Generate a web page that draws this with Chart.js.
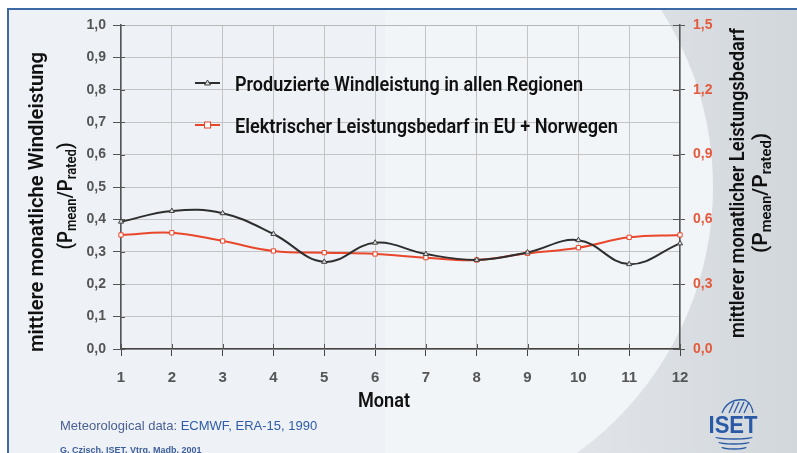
<!DOCTYPE html>
<html>
<head>
<meta charset="utf-8">
<script src="https://cdn.jsdelivr.net/npm/chart.js@4.4.0/dist/chart.umd.min.js"></script>
<style>
  html, body { margin: 0; padding: 0; background: #fff; }
  #wrap { width: 797px; height: 453px; position: relative; }
</style>
</head>
<body>
<div id="wrap"><canvas id="windChart"></canvas></div>
<script>
// ========================
// Data
// ========================
const months = ['1', '2', '3', '4', '5', '6', '7', '8', '9', '10', '11', '12'];
// left axis, P_mean / P_rated
const windPower = [0.393, 0.426, 0.419, 0.355, 0.269, 0.328, 0.293, 0.275, 0.298, 0.336, 0.262, 0.326];
// right axis, P_mean / P_rated
const powerDemand = [0.528, 0.538, 0.500, 0.454, 0.446, 0.440, 0.423, 0.412, 0.443, 0.469, 0.517, 0.528];
const leftTicks = { min: 0, max: 1.0, step: 0.1 };
const rightTicks = { min: 0, max: 1.5, step: 0.3 };
const seriesNames = ['Produzierte Windleistung in allen Regionen', 'Elektrischer Leistungsbedarf in EU + Norwegen'];

const BLACK = '#2e2e2e';
const RED = '#e9472b';
const TITLE_WEIGHT = 600;
const fmt = v => v.toFixed(1).replace('.', ',');

// draw text made of normal + subscript parts, squeezed to a given width
function richText(ctx, parts, x, y, size, width, rotate) {
    ctx.save();
    ctx.translate(x, y);
    if (rotate) ctx.rotate(-Math.PI / 2);
    const big = `${TITLE_WEIGHT} ${size}px Roboto`;
    const small = `${TITLE_WEIGHT} ${Math.round(size * 0.68)}px Roboto`;
    let w = 0;
    parts.forEach(p => { ctx.font = p.sub ? small : big; w += ctx.measureText(p.t).width; });
    const k = width ? width / w : 1;
    ctx.scale(k, 1);
    ctx.fillStyle = '#111';
    ctx.textBaseline = 'middle';
    ctx.textAlign = 'left';
    let cx = -w / 2;
    parts.forEach(p => {
        ctx.font = p.sub ? small : big;
        ctx.fillText(p.t, cx, p.sub ? size * 0.28 : 0);
        cx += ctx.measureText(p.t).width;
    });
    ctx.restore();
}

const pmean = [{ t: '(P' }, { t: 'mean', sub: true }, { t: '/P' }, { t: 'rated', sub: true }, { t: ')' }];

const backdrop = {
    id: 'backdrop',
    beforeDraw(chart) {
        const ctx = chart.ctx;
        ctx.save();
        ctx.fillStyle = '#fff';
        ctx.fillRect(0, 0, 797, 453);
        ctx.fillStyle = '#eef2f6';
        ctx.fillRect(8, 9, 789, 444);
        // grey crescent on the right
        ctx.beginPath();
        ctx.rect(385, 9, 412, 444);
        ctx.clip();
        const g = ctx.createLinearGradient(570, 0, 797, 0);
        g.addColorStop(0, '#e1e5e9');
        g.addColorStop(1, '#d2d7dc');
        ctx.fillStyle = g;
        ctx.fillRect(385, 9, 412, 444);
        ctx.beginPath();
        ctx.arc(385, 187, 328, 0, Math.PI * 2);
        ctx.fillStyle = '#f1f5f8';
        ctx.fill();
        ctx.restore();
        // frame
        ctx.save();
        ctx.strokeStyle = '#3d6aa6';
        ctx.lineWidth = 2;
        ctx.beginPath();
        ctx.moveTo(8, 453);
        ctx.lineTo(8, 9);
        ctx.lineTo(797, 9);
        ctx.stroke();
        ctx.restore();
    },
    afterDraw(chart) {
        const ctx = chart.ctx;
        const area = chart.chartArea;
        const ds = chart.data.datasets;
        ctx.save();
        // top line of plot
        ctx.strokeStyle = '#b8b8b8';
        ctx.lineWidth = 1;
        ctx.beginPath();
        ctx.moveTo(area.left, area.top + 0.5);
        ctx.lineTo(area.right, area.top + 0.5);
        ctx.stroke();

        // inner halves of the tick marks (they cross the axes)
        ctx.strokeStyle = '#555';
        ctx.lineWidth = 1;
        ctx.beginPath();
        chart.scales.y.ticks.forEach(t => {
            const py = Math.round(chart.scales.y.getPixelForValue(t.value)) + 0.5;
            ctx.moveTo(area.left, py);
            ctx.lineTo(area.left + 4, py);
        });
        chart.scales.y1.ticks.forEach(t => {
            const py = Math.round(chart.scales.y1.getPixelForValue(t.value)) + 0.5;
            ctx.moveTo(area.right - 7, py);
            ctx.lineTo(area.right, py);
        });
        chart.scales.x.ticks.forEach((t, i) => {
            const px = Math.round(chart.scales.x.getPixelForTick(i)) + 0.5;
            ctx.moveTo(px, area.bottom);
            ctx.lineTo(px, area.bottom - 5);
        });
        ctx.stroke();

        // legend inside the plot
        const rows = [{ y: 83, base: 91, w: 348 }, { y: 125, base: 133, w: 383 }];
        rows.forEach((r, i) => {
            ctx.strokeStyle = ds[i].borderColor;
            ctx.lineWidth = 2;
            ctx.beginPath();
            ctx.moveTo(195, r.y);
            ctx.lineTo(220, r.y);
            ctx.stroke();
            ctx.fillStyle = ds[i].pointBackgroundColor;
            ctx.strokeStyle = ds[i].pointBorderColor;
            ctx.lineWidth = 1;
            if (i === 0) {
                ctx.beginPath();
                ctx.moveTo(207.5, r.y - 3);
                ctx.lineTo(210.5, r.y + 2);
                ctx.lineTo(204.5, r.y + 2);
                ctx.closePath();
                ctx.fill();
                ctx.stroke();
            } else {
                ctx.fillRect(204.5, r.y - 3, 6, 6);
                ctx.strokeRect(204.5, r.y - 3, 6, 6);
            }
            ctx.save();
            ctx.translate(235, r.base);
            ctx.font = `${TITLE_WEIGHT} 20px Roboto`;
            const w = ctx.measureText(seriesNames[i]).width;
            ctx.scale(r.w / w, 1);
            ctx.fillStyle = '#111';
            ctx.textBaseline = 'alphabetic';
            ctx.fillText(seriesNames[i], 0, 0);
            ctx.restore();
        });

        // axis titles
        richText(ctx, [{ t: 'mittlere monatliche Windleistung' }], 38, 202, 20, 300, true);
        richText(ctx, pmean, 67, 196, 20, 107, true);
        richText(ctx, [{ t: 'mittlerer monatlicher Leistungsbedarf' }], 739, 183, 20, 310, true);
        richText(ctx, pmean, 762, 193, 20, 120, true);
        ctx.save();
        ctx.translate(384, 407);
        ctx.font = `${TITLE_WEIGHT} 20px Roboto`;
        const mw = ctx.measureText('Monat').width;
        ctx.scale(52 / mw, 1);
        ctx.fillStyle = '#111';
        ctx.textAlign = 'center';
        ctx.fillText('Monat', 0, 0);
        ctx.restore();

        // footnotes
        ctx.textAlign = 'left';
        ctx.textBaseline = 'alphabetic';
        ctx.font = '13px "Liberation Sans"';
        ctx.fillStyle = '#4a5f92';
        ctx.fillText('Meteorological data:', 60, 430);
        const pre = ctx.measureText('Meteorological data: ').width;
        ctx.fillStyle = '#2f5ba8';
        ctx.fillText('ECMWF, ERA-15, 1990', 60 + pre, 430);
        ctx.font = 'bold 9px "Liberation Sans"';
        ctx.fillStyle = '#3f5f9c';
        ctx.fillText('G. Czisch, ISET, Vtrg. Madb. 2001', 60, 453);

        // ISET logo
        ctx.fillStyle = '#2a5aa6';
        ctx.strokeStyle = '#2a5aa6';
        ctx.save();
        ctx.translate(733, 433);
        ctx.font = 'bold 24px "Liberation Sans Narrow", "Liberation Sans"';
        const iw = ctx.measureText('ISET').width;
        ctx.scale(49 / iw, 1);
        ctx.textAlign = 'center';
        ctx.fillText('ISET', 0, 0);
        ctx.restore();
        ctx.lineWidth = 1.3;
        ctx.beginPath();
        ctx.moveTo(722, 413);
        ctx.quadraticCurveTo(728, 398, 745, 400);
        ctx.quadraticCurveTo(752, 404, 753, 413);
        ctx.stroke();
        for (let k = 0; k < 4; k++) {
            ctx.beginPath();
            ctx.moveTo(729 + k * 5, 413);
            ctx.lineTo(734 + k * 5, 402);
            ctx.stroke();
        }
        for (let k = 0; k < 3; k++) {
            ctx.beginPath();
            ctx.ellipse(734, 437 + k * 5, 18 - k * 3, 2, 0, 0, Math.PI);
            ctx.stroke();
        }
        ctx.restore();
    }
};

const ctx = document.getElementById('windChart').getContext('2d');
new Chart(ctx, {
    type: 'line',
    data: {
        labels: months,
        datasets: [
            {
                label: seriesNames[0], data: windPower, yAxisID: 'y',
                borderColor: BLACK, borderWidth: 2, tension: 0.4,
                pointStyle: 'triangle', pointRadius: 3,
                pointBackgroundColor: '#d8d8d8', pointBorderColor: '#444', pointBorderWidth: 1
            },
            {
                label: seriesNames[1], data: powerDemand, yAxisID: 'y1',
                borderColor: RED, borderWidth: 2, tension: 0.4,
                pointStyle: 'rect', pointRadius: 3,
                pointBackgroundColor: '#fff', pointBorderColor: RED, pointBorderWidth: 1
            }
        ]
    },
    options: {
        responsive: true,
        maintainAspectRatio: false,
        animation: false,
        layout: { padding: { top: 25, left: 0, right: 0, bottom: 0 } },
        plugins: { legend: { display: false }, tooltip: { enabled: false } },
        scales: {
            x: {
                offset: false,
                afterFit: s => { s.height = 104; },
                border: { display: true, color: '#444', width: 1.5 },
                grid: { color: '#c4c4c4', borderDash: [2, 2], tickColor: '#444', tickBorderDash: [], tickLength: 7 },
                ticks: { color: '#555', font: { family: '"Liberation Sans"', size: 15, weight: 'bold' }, padding: 13, maxRotation: 0 }
            },
            y: {
                position: 'left',
                min: leftTicks.min, max: leftTicks.max,
                afterFit: s => { s.width = 121; },
                border: { display: true, color: '#555', width: 1.5 },
                grid: { color: '#c4c4c4', borderDash: [2, 2], tickColor: '#555', tickBorderDash: [], tickLength: 8 },
                ticks: { stepSize: leftTicks.step, callback: v => fmt(v), color: '#555', font: { family: '"Liberation Sans"', size: 14, weight: 'bold' }, padding: 7 }
            },
            y1: {
                position: 'right',
                min: rightTicks.min, max: rightTicks.max,
                afterFit: s => { s.width = 117; },
                border: { display: true, color: '#555', width: 1.5 },
                grid: { drawOnChartArea: false, tickColor: '#555', tickLength: 5 },
                ticks: { stepSize: rightTicks.step, callback: v => fmt(v), color: '#e35a3c', font: { family: '"Liberation Sans"', size: 14, weight: 'bold' }, padding: 8 }
            }
        }
    },
    plugins: [backdrop]
});
</script>
</body>
</html>
